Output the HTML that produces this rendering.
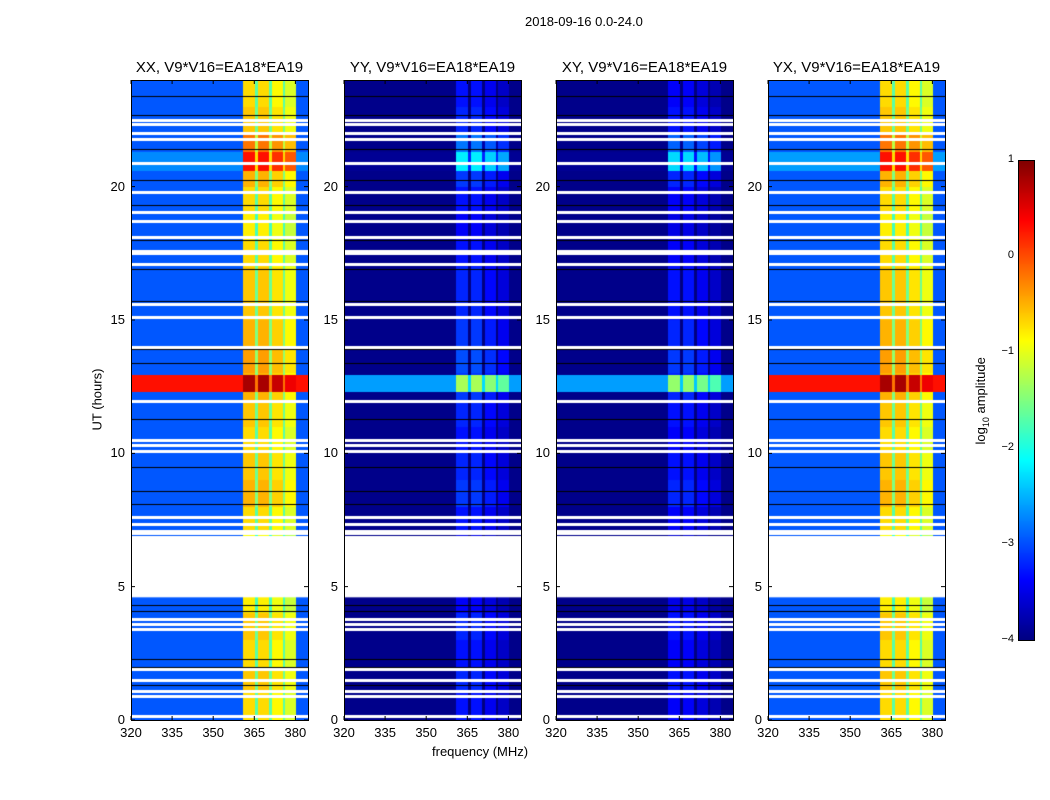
<!DOCTYPE html>
<html><head><meta charset="utf-8"><style>
body{margin:0;background:#fff;width:1050px;height:800px;overflow:hidden;font-family:"Liberation Sans",sans-serif;}
#root{position:relative;width:1050px;height:800px;}
canvas{position:absolute;}
.t{position:absolute;font-size:13px;color:#000;white-space:nowrap;}
</style></head><body><div id="root">
<div class="t" style="left:525px;top:14px;">2018-09-16 0.0-24.0</div>
<div class="t" style="left:57px;top:392px;transform:rotate(-90deg);transform-origin:center;width:80px;text-align:center;">UT (hours)</div>
<div class="t" style="left:432px;top:744px;">frequency (MHz)</div>
<canvas id="cbar" width="16" height="481" style="left:1018px;top:160px;"></canvas>
<div class="t" style="left:922px;top:392px;width:120px;text-align:center;transform:rotate(-90deg);">log<sub style="font-size:9px">10</sub> amplitude</div>
<svg id="svg" width="1050" height="800" style="position:absolute;left:0;top:0;pointer-events:none"></svg>
</div>
<script>
// ---- data ----
const panelNames=["XX, V9*V16=EA18*EA19","YY, V9*V16=EA18*EA19","XY, V9*V16=EA18*EA19","YX, V9*V16=EA18*EA19"];
const panelBase=[-2.95,-3.95,-3.95,-2.95];
const panelBandOffset=[0,-2.6,-2.7,0];
const subStart=[361,366.5,371.5,376.5];
const subEnd=[365.5,370.4,375.8,380.2];
const subLevel=[0.0,0.0,-0.15,-0.35];
const gapLevel=-1.0;
const hourLevel=[-0.7,-0.6,-0.7,-0.6,-0.8,-0.9,-0.9,-0.7,-0.5,-0.6,-0.7,-0.6,-0.5,-0.4,-0.5,-0.6,-0.6,-0.7,-0.8,-0.7,-0.5,-0.2,-0.6,-0.7];
const burstStart=[12.3,20.6];
const burstEnd=[12.95,21.3];
const burstBase=[[0.3,-2.6,-2.6,0.3],[-2.7,-3.9,-3.9,-2.6]];
const burstBand=[[0.8,-1.3,-1.4,0.8],[0.3,-2.2,-2.3,0.3]];
const flagStart=4.6, flagEnd=6.9;
const whiteRows=[0.15,0.9,1.1,1.5,1.9,3.4,3.6,3.8,7.0,7.1,7.35,7.6,10.1,10.3,10.5,11.95,14.0,15.1,15.6,17.1,17.5,17.6,18.1,18.7,19.05,19.8,20.9,21.8,22.0,22.35,22.5];
const blackRows=[1.3,2.0,2.3,4.1,4.3,8.1,8.6,9.5,11.3,13.4,13.9,15.7,16.9,18.0,19.3,20.25,21.4,22.7,23.4];
const xTicks=[320,335,350,365,380];
const yTicks=[0,5,10,15,20];
const cbTicks=[1,0,-1,-2,-3,-4];
// ---- layout ----
const panelX=[131,344,556,768], PW=177, PT=80, PH=640;
const fMin=320,fMax=384.6,tMax=24;
const xs=(p,f)=>panelX[p]+(f-fMin)/(fMax-fMin)*PW;
const ys=h=>PT+PH-h/tMax*PH;
function jet(v){let t=Math.max(0,Math.min(1,(v+4)/5));
 const c=x=>Math.round(255*Math.max(0,Math.min(1,x)));
 return `rgb(${c(1.5-Math.abs(4*t-3))},${c(1.5-Math.abs(4*t-2))},${c(1.5-Math.abs(4*t-1))})`;}
const root=document.getElementById('root'),svg=document.getElementById('svg');
const NS="http://www.w3.org/2000/svg";
function val(p,f,h){
 const hi=Math.min(23,Math.floor(h));
 let base=panelBase[p],band=hourLevel[hi]+panelBandOffset[p];
 for(let b=0;b<burstStart.length;b++) if(h>=burstStart[b]&&h<burstEnd[b]){base=burstBase[b][p];band=burstBand[b][p];}
 for(let s=0;s<subStart.length;s++) if(f>=subStart[s]&&f<subEnd[s]) return band+subLevel[s];
 if(f>=subStart[0]&&f<subEnd[subEnd.length-1]) return band+gapLevel;
 return base;
}
for(let p=0;p<4;p++){
 const cv=document.createElement('canvas');cv.width=PW;cv.height=PH;
 cv.style.left=panelX[p]+'px';cv.style.top=PT+'px';
 
 
 root.insertBefore(cv,svg);
 const ctx=cv.getContext('2d');
 const step=0.25;
 for(let y=0;y<PH;y++){const h=(PH-y-0.5)/PH*tMax;
  for(let f=fMin;f<fMax;f+=step){ctx.fillStyle=jet(val(p,f+step/2,h));
   const x0=xs(p,f)-panelX[p];ctx.fillRect(Math.floor(x0),y,Math.ceil(xs(p,f+step)-xs(p,f))+1,1);}}
 ctx.fillStyle='#000';
 blackRows.forEach(h=>ctx.fillRect(0,Math.round(ys(h)-PT),PW,1));
 ctx.fillStyle='#fff';
 whiteRows.forEach(h=>ctx.fillRect(0,Math.round(ys(h)-PT)-1,PW,3));
 ctx.fillRect(0,ys(flagEnd)-PT,PW,ys(flagStart)-ys(flagEnd));
 const r=document.createElementNS(NS,'rect');
 r.setAttribute('x',panelX[p]+0.5);r.setAttribute('y',PT+0.5);r.setAttribute('width',PW);r.setAttribute('height',PH);
 r.setAttribute('fill','none');r.setAttribute('stroke','#000');
 
 
 svg.appendChild(r);
 const title=document.createElement('div');title.className='t';title.style.fontSize='15px';
 title.style.left=(panelX[p]-20)+'px';title.style.width=(PW+40)+'px';title.style.textAlign='center';title.style.top='59px';
 title.textContent=panelNames[p];
 
 
 root.appendChild(title);
 xTicks.forEach(f=>{const x=xs(p,f);
  const l=document.createElementNS(NS,'path');
  l.setAttribute('d',`M${x} ${PT+PH}v-4M${x} ${PT}v4`);l.setAttribute('stroke','#000');
  
  
  svg.appendChild(l);
  const d=document.createElement('div');d.className='t';d.style.left=(x-15)+'px';d.style.width='30px';d.style.textAlign='center';d.style.top=(PT+PH+5)+'px';d.textContent=f;
  
  
  root.appendChild(d);});
 yTicks.forEach(h=>{const y=ys(h);
  const l=document.createElementNS(NS,'path');
  l.setAttribute('d',`M${panelX[p]} ${y}h4M${panelX[p]+PW} ${y}h-4`);l.setAttribute('stroke','#000');
  
  
  svg.appendChild(l);
  const d=document.createElement('div');d.className='t';d.style.left=(panelX[p]-34)+'px';d.style.width='28px';d.style.textAlign='right';d.style.top=(y-8)+'px';d.textContent=h;
  
  
  root.appendChild(d);});
}
const cb=document.getElementById('cbar').getContext('2d');
for(let y=0;y<481;y++){cb.fillStyle=jet(1-y/480*5);cb.fillRect(0,y,16,1);}
const cr=document.createElementNS(NS,'rect');
cr.setAttribute('x',1018.5);cr.setAttribute('y',160.5);cr.setAttribute('width',16);cr.setAttribute('height',480);
cr.setAttribute('fill','none');cr.setAttribute('stroke','#000');


svg.appendChild(cr);
cbTicks.forEach(v=>{const y=160+(1-v)/5*480;
 const d=document.createElement('div');d.className='t';d.style.fontSize='11px';d.style.left='996px';d.style.width='18px';d.style.textAlign='right';d.style.top=(y-7)+'px';
 d.textContent=v<0?'\u2212'+(-v):String(v);
 
 
 root.appendChild(d);});
</script></body></html>
